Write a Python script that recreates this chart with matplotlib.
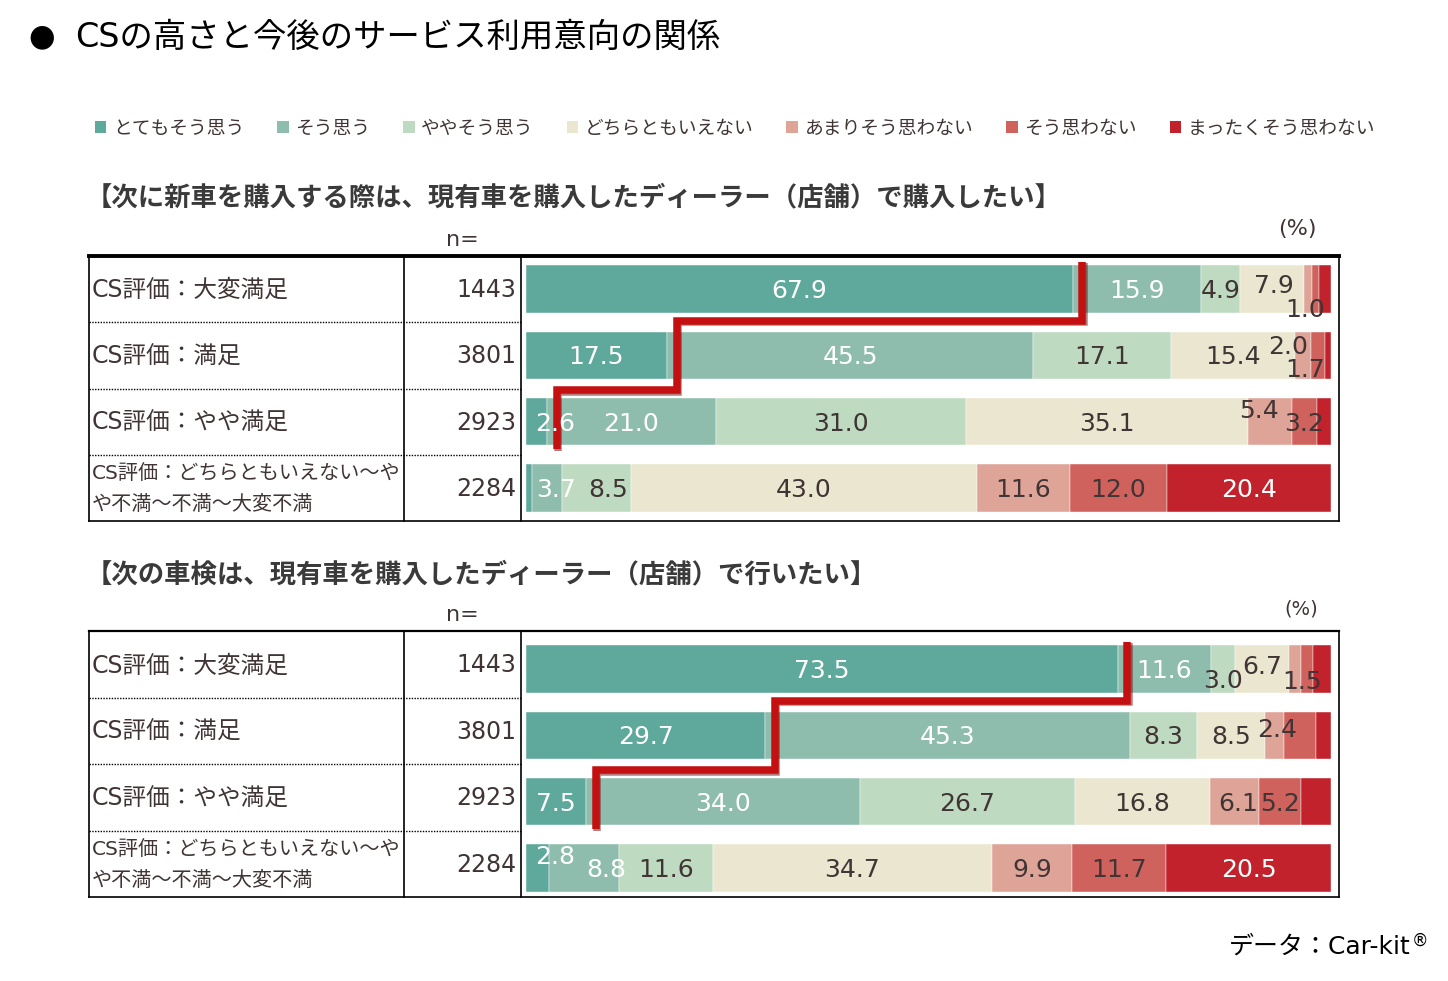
import matplotlib
matplotlib.use("Agg")
import matplotlib.pyplot as plt
from matplotlib.lines import Line2D
from matplotlib.patches import Rectangle
import matplotlib.patheffects as pe
import numpy as np

plt.rcParams['font.family'] = ['DejaVu Sans', 'Noto Sans CJK JP']

W, H = 1448, 981
TXT = "#403434"

categories = ["とてもそう思う", "そう思う", "ややそう思う", "どちらともいえない",
              "あまりそう思わない", "そう思わない", "まったくそう思わない"]
colors = ["#5fa99c", "#8fbdad", "#bedbc2", "#ebe6d0", "#dfa498", "#d0625d", "#c1222b"]

row_labels = ["CS評価：大変満足", "CS評価：満足", "CS評価：やや満足",
              "CS評価：どちらともいえない～や\nや不満～不満～大変不満"]
n_values = [1443, 3801, 2923, 2284]

title_buy = "【次に新車を購入する際は、現有車を購入したディーラー（店舗）で購入したい】"
buy_values = [
    [67.9, 15.9, 4.9, 7.9, 1.0, 0.9, 1.5],
    [17.5, 45.5, 17.1, 15.4, 2.0, 1.7, 0.8],
    [2.6, 21.0, 31.0, 35.1, 5.4, 3.2, 1.7],
    [0.8, 3.7, 8.5, 43.0, 11.6, 12.0, 20.4],
]
title_insp = "【次の車検は、現有車を購入したディーラー（店舗）で行いたい】"
insp_values = [
    [73.5, 11.6, 3.0, 6.7, 1.5, 1.5, 2.2],
    [29.7, 45.3, 8.3, 8.5, 2.4, 3.9, 1.9],
    [7.5, 34.0, 26.7, 16.8, 6.1, 5.2, 3.7],
    [2.8, 8.8, 11.6, 34.7, 9.9, 11.7, 20.5],
]

# labels that are not shown, and hand nudges (px right, px down) like in the original
buy_hidden = {(0, 5), (0, 6), (1, 6), (2, 6), (3, 0)}
buy_nudge = {(0, 3): (2, -5), (0, 4): (-3, 19), (1, 4): (-15, -10), (1, 5): (-13, 13),
             (2, 0): (19, 0), (2, 4): (-11, -13), (3, 1): (9, 0), (3, 2): (12, 0)}
insp_hidden = {(0, 5), (0, 6), (1, 5), (1, 6), (2, 6)}
insp_nudge = {(0, 2): (0, 10), (0, 3): (0, -4), (0, 4): (7, 11), (1, 4): (2, -7),
              (2, 4): (3, 0), (3, 0): (18, -13), (3, 1): (22, 0)}

white_cols = {0, 1, 6}

fig = plt.figure(figsize=(W / 100, H / 100), dpi=100)


def fx(x):
    return x / W


def fy(y):
    return 1 - y / H


def hline(x0, x1, y, lw=1.2, ls='-'):
    fig.add_artist(Line2D([fx(x0), fx(x1)], [fy(y), fy(y)], transform=fig.transFigure,
                          color='black', lw=lw, ls=ls))


def vline(x, y0, y1, lw=1.2):
    fig.add_artist(Line2D([fx(x), fx(x)], [fy(y0), fy(y1)], transform=fig.transFigure,
                          color='black', lw=lw))


def table(top, bottom, top_lw):
    rowh = (bottom - top) / 4
    hline(89, 1339, top, lw=top_lw)
    hline(89, 1339, bottom)
    vline(89, top, bottom)
    vline(1339, top, bottom)
    vline(404, top, bottom)
    vline(521, top, bottom)
    for k in range(1, 4):
        hline(89, 521, top + k * rowh, lw=1.0, ls=(0, (1, 1)))
    for k in range(4):
        yc = top + (k + 0.5) * rowh + 1
        size = 17 if '\n' not in row_labels[k] else 14.5
        fig.text(fx(92), fy(yc), row_labels[k], ha='left', va='center', fontsize=size,
                 color=TXT, linespacing=1.8)
        fig.text(fx(516), fy(yc), str(n_values[k]), ha='right', va='center', fontsize=17,
                 color=TXT)


def panel(values, top, hidden, nudge):
    vals = np.array(values)
    ax = fig.add_axes([fx(526), fy(top + 265), 805 / W, 265 / H])
    ax.set_xlim(0, 100)
    ax.set_ylim(3.5, -0.5)
    ax.axis('off')
    rows = np.arange(len(vals))
    left = np.zeros(len(vals))
    for j in range(vals.shape[1]):
        ax.barh(rows, vals[:, j], left=left, height=0.72, color=colors[j],
                edgecolor='white', linewidth=0.3)
        for i in rows:
            if (i, j) in hidden:
                continue
            dx, dy = nudge.get((i, j), (0, 0))
            ax.annotate(f"{vals[i, j]:.1f}", (left[i] + vals[i, j] / 2, i),
                        xytext=(dx * 0.72, -(dy + 2) * 0.72), textcoords='offset points',
                        ha='center', va='center', fontsize=18,
                        color='white' if j in white_cols else TXT, annotation_clip=False)
        left += vals[:, j]
    # red step line after the first category
    sx = vals[:, 0] + 1.2
    xs = [sx[2], sx[2], sx[1], sx[1], sx[0], sx[0]]
    ys = [2.42, 1.53, 1.53, 0.48, 0.48, -0.41]
    ax.plot(xs, ys, color='#c41010', lw=5.4, solid_joinstyle='miter', solid_capstyle='butt',
            clip_on=False,
            path_effects=[pe.SimpleLineShadow(offset=(1, -1), shadow_color='#600000', alpha=0.5),
                          pe.Normal()])
    return ax


# title
fig.text(fx(42), fy(37), "●", ha='center', va='center', fontsize=22, color='black')
fig.text(fx(75), fy(37), "CSの高さと今後のサービス利用意向の関係", ha='left', va='center',
         fontsize=24, color='black')

# legend
handles = [Rectangle((0, 0), 1, 1, facecolor=c, edgecolor='none') for c in colors]
fig.legend(handles, categories, loc='center', bbox_to_anchor=(fx(735), fy(128)), ncol=7,
           frameon=False, fontsize=13.5, handlelength=0.62, handleheight=0.62,
           handletextpad=0.35, columnspacing=1.75, labelcolor=TXT, borderpad=0)

# upper block
fig.text(fx(86), fy(198), title_buy, ha='left', va='center', fontsize=19,
         fontweight='bold', color='#3a3a3a')
fig.text(fx(462), fy(240), "n=", ha='center', va='center', fontsize=16, color=TXT)
fig.text(fx(1297), fy(229), "(%)", ha='center', va='center', fontsize=16, color=TXT)
table(256, 521, 2.8)
panel(buy_values, 256, buy_hidden, buy_nudge)

# lower block
fig.text(fx(86), fy(575), title_insp, ha='left', va='center', fontsize=19,
         fontweight='bold', color='#3a3a3a')
fig.text(fx(462), fy(615), "n=", ha='center', va='center', fontsize=16, color=TXT)
fig.text(fx(1301), fy(609), "(%)", ha='center', va='center', fontsize=14, color=TXT)
table(631, 897, 1.6)
panel(insp_values, 636, insp_hidden, insp_nudge)

fig.text(fx(1411), fy(947), "データ：Car-kit", ha='right', va='center', fontsize=18,
         color='black')
fig.text(fx(1412), fy(941), "®", ha='left', va='center', fontsize=12, color='black')

fig.savefig("out.png", dpi=100)
